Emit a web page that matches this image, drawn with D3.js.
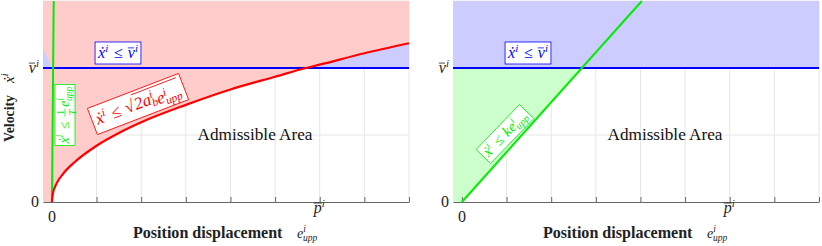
<!DOCTYPE html>
<html>
<head>
<meta charset="utf-8">
<script src="https://cdn.jsdelivr.net/npm/d3@7"></script>
<style>
  body { margin: 0; background: #fff; }
  svg { display: block; }
  text { white-space: pre; }
</style>
</head>
<body>
<div id="container"></div>
<script>
/* CONSTANTS AND GLOBALS */
const width = 822;
const height = 246;

/* DATA */
const xDomain = [-0.2, 8];
const yDomain = [0, 3];
const xTicks = [0, 1, 2, 3, 4, 5, 6, 7, 8];
const yGrid = [1, 2, 3];
const xTickLabels = [{ v: 0, html: "0" }, { v: 6, html: "p", bar: true }];
const yTickLabels = [{ v: 0, html: "0" }, { v: 2, html: "v", bar: true }];
const vMax = 2;

// red curve  x_dot = sqrt(2 a e)
const brakeX = [0, 0.02, 0.1, 0.25, 0.5, 1, 1.5, 2, 3, 4, 5, 5.69, 6, 7, 8];
const brakeV = [0, 0.12, 0.27, 0.42, 0.59, 0.84, 1.03, 1.19, 1.45, 1.68, 1.87, 2.0, 2.05, 2.22, 2.37];

// green lines
const leftGreenX = [0, 0.04];
const leftGreenV = [0, 3];
const rightGreenX = [0, 4.03];
const rightGreenV = [0, 3];
const rightCrossX = 2.69;

// small blue sliver at the top-left of the left panel
const sliverX = [-0.2, -0.2, 0];
const sliverV = [2, 2.3, 2];

const colors = {
  red: "#ff0000", blue: "#0000ff", green: "#00ee00",
  redFill: "#ffcccc", blueFill: "#ccccff", greenFill: "#ccffcc",
  grid: "#e6e6e6", axis: "#666"
};

const svg = d3.select("#container")
  .append("svg")
  .attr("width", width)
  .attr("height", height)
  .attr("font-family", "Liberation Serif");

/* helpers */
const sup = s => `<tspan dy="-6" font-size="0.68em">${s}</tspan><tspan dy="6"></tspan>`;
const supSub = (a, b) => `<tspan dy="-6" font-size="0.68em">${a}</tspan><tspan dx="-3" dy="9" font-size="0.68em">${b}</tspan><tspan dy="-3"></tspan>`;

// scale a text so its width matches the reference
function fit(t, target) {
  const w = t.node().getBBox().width;
  const fs = +t.attr("font-size");
  t.attr("font-size", fs * target / w);
  return target;
}

// lay out math segments side by side inside g, returns width
function buildMath(g, segs, size, color) {
  let x = 0;
  segs.forEach(s => {
    if (s.space) { x += s.space * size; return; }
    if (s.frac) {
      const fs = size * 0.68;
      const tn = g.append("text").attr("font-size", fs).attr("fill", color)
        .attr("text-anchor", "middle").text(s.frac[0]);
      const td = g.append("text").attr("font-size", fs).attr("fill", color)
        .attr("font-style", "italic").attr("text-anchor", "middle").text(s.frac[1]);
      const w = Math.max(tn.node().getBBox().width, td.node().getBBox().width) + 2;
      tn.attr("x", x + w / 2 + 0.5).attr("y", -size * 0.38);
      td.attr("x", x + w / 2 + 0.5).attr("y", size * 0.45);
      g.append("line").attr("x1", x + 0.5).attr("x2", x + w + 0.5)
        .attr("y1", -size * 0.3).attr("y2", -size * 0.3)
        .attr("stroke", color).attr("stroke-width", 0.7);
      x += w + 2;
    } else {
      const t = g.append("text").attr("x", x).attr("font-size", size)
        .attr("fill", color).attr("font-style", s.upright ? "normal" : "italic")
        .html(s.html);
      const w = t.node().getBBox().width;
      if (s.bar) {
        g.append("line").attr("x1", x + (s.barPad || 0)).attr("x2", x + w - (s.barCut || 0))
          .attr("y1", -size * (s.barY || 0.78)).attr("y2", -size * (s.barY || 0.78))
          .attr("stroke", color).attr("stroke-width", 0.8);
      }
      x += w + (s.gap || 0);
    }
  });
  return x;
}

function mathBox(parent, cx, cy, angle, segs, size, color, padX, boxH) {
  const g = parent.append("g").attr("transform", `translate(${cx},${cy}) rotate(${angle})`);
  const rect = g.append("rect");
  const inner = g.append("g");
  const w = buildMath(inner, segs, size, color);
  inner.attr("transform", `translate(${-w / 2},${size * 0.3})`);
  rect.attr("x", -w / 2 - padX).attr("y", -boxH / 2)
    .attr("width", w + 2 * padX).attr("height", boxH)
    .attr("fill", "#fff").attr("stroke", color).attr("stroke-width", 0.8);
}

const xdot = { html: "ẋ" + sup("i") };
const le = [{ space: 0.3 }, { html: "≤", upright: true }, { space: 0.3 }];
const vbar = { html: "v" + sup("i"), bar: true, barY: 0.62, barCut: 4 };
const eupp = { html: "e" + supSub("i", "upp") };

/* PANELS */
function panel(x0, x1, kind) {
  const xScale = d3.scaleLinear().domain(xDomain).range([x0, x1]);
  const yScale = d3.scaleLinear().domain(yDomain).range([202, 1]);
  const g = svg.append("g");

  // grid
  g.selectAll(".vgrid").data(xTicks.filter(d => d > 0)).join("line")
    .attr("x1", d => xScale(d)).attr("x2", d => xScale(d))
    .attr("y1", yScale(0)).attr("y2", yScale(3))
    .attr("stroke", colors.grid);
  g.selectAll(".hgrid").data(yGrid).join("line")
    .attr("x1", x0).attr("x2", x1)
    .attr("y1", d => yScale(d)).attr("y2", d => yScale(d))
    .attr("stroke", colors.grid);

  const line = d3.line().x(d => xScale(d[0])).y(d => yScale(d[1]));
  const brake = brakeX.map((d, i) => [d, brakeV[i]]);

  if (kind === "left") {
    // red region: above the braking curve, and everything left of zero
    const redPoly = [[xDomain[0], 0], ...brake, [8, 3], [xDomain[0], 3]];
    g.append("path").attr("d", line(redPoly) + "Z").attr("fill", colors.redFill);
    // blue region: above vMax, below the braking curve
    const above = brake.filter(d => d[1] >= vMax);
    const area = d3.area().x(d => xScale(d[0])).y0(yScale(vMax)).y1(d => yScale(d[1]))
      .curve(d3.curveMonotoneX);
    g.append("path").attr("d", area(above)).attr("fill", colors.blueFill);
    const sliver = sliverX.map((d, i) => [d, sliverV[i]]);
    g.append("path").attr("d", line(sliver) + "Z").attr("fill", colors.blueFill);
  } else {
    const bluePoly = [[xDomain[0], vMax], [8, vMax], [8, 3], [xDomain[0], 3]];
    g.append("path").attr("d", line(bluePoly) + "Z").attr("fill", colors.blueFill);
    const greenPoly = [[xDomain[0], 0], [0, 0], [rightCrossX, vMax], [xDomain[0], vMax]];
    g.append("path").attr("d", line(greenPoly) + "Z").attr("fill", colors.greenFill);
  }

  // x axis (ticks point inward)
  g.append("g")
    .attr("transform", `translate(0,${yScale(0)})`)
    .call(d3.axisBottom(xScale).tickValues(xTicks).tickSizeInner(-5).tickSizeOuter(0).tickFormat(""))
    .call(a => a.select(".domain").attr("stroke", colors.axis))
    .call(a => a.selectAll(".tick line").attr("stroke", colors.axis));

  // curves
  g.append("path").attr("d", line([[xDomain[0], vMax], [8, vMax]]))
    .attr("stroke", colors.blue).attr("stroke-width", 2).attr("fill", "none");
  if (kind === "left") {
    g.append("path").attr("d", line(leftGreenX.map((d, i) => [d, leftGreenV[i]])))
      .attr("stroke", colors.green).attr("stroke-width", 2).attr("fill", "none");
    g.append("path")
      .attr("d", d3.line().x(d => xScale(d[0])).y(d => yScale(d[1])).curve(d3.curveMonotoneX)(brake))
      .attr("stroke", colors.red).attr("stroke-width", 2.2).attr("fill", "none");
  } else {
    g.append("path").attr("d", line(rightGreenX.map((d, i) => [d, rightGreenV[i]])))
      .attr("stroke", colors.green).attr("stroke-width", 2).attr("fill", "none");
  }

  // tick labels
  xTickLabels.forEach(t => {
    const tg = g.append("g");
    const w = buildMath(tg, t.bar ? [{ html: "p" + sup("i"), bar: true, barY: 0.62, barCut: 4 }] : [{ html: "0", upright: true }], 16, "#222");
    tg.attr("transform", `translate(${xScale(t.v) - (t.bar ? 6 : w / 2)},${t.bar ? 213 : 222})`);
  });
  yTickLabels.forEach(t => {
    const tg = g.append("g");
    const w = buildMath(tg, t.bar ? [vbar] : [{ html: "0", upright: true }], 16, "#222");
    tg.attr("transform", `translate(${x0 - 4 - w},${yScale(t.v) + 5})`);
  });

  // x label
  const xl = g.append("g").attr("transform", `translate(${x0 + 90},238)`);
  const bt = xl.append("text").attr("font-size", 14).attr("font-weight", "bold").attr("fill", "#222")
    .text("Position displacement");
  const bw = fit(bt, 150);
  const el = xl.append("g").attr("transform", `translate(${bw + 14},0)`);
  buildMath(el, [eupp], 14, "#222");

  // admissible area
  const aa = g.append("text").attr("x", xScale(4.55)).attr("y", 140).attr("text-anchor", "middle")
    .attr("font-size", 16).attr("fill", "#111").text("Admissible Area");
  fit(aa, 115);

  // constraint boxes
  mathBox(g, x0 + 75, 53, 0, [xdot, ...le, vbar], 16, colors.blue, 3, 22);
  if (kind === "left") {
    mathBox(g, x0 + 95, 104, -21, [xdot, ...le, { html: "√", upright: true },
      { html: "2a" + supSub("i", "b") + "e" + supSub("i", "upp"), bar: true, barY: 0.95 }], 17, colors.red, 4, 28);
    mathBox(g, x0 + 22, 115, -90, [xdot, ...le, { frac: ["1", "T"] }, eupp], 14, colors.green, 2, 20);
  } else {
    mathBox(g, x0 + 52, 134, -46, [xdot, ...le, { html: "ke" + supSub("i", "upp") }], 15, colors.green, 3, 20);
  }
  return g;
}

panel(43, 409, "left");
panel(453, 819, "right");

// y label (left panel only)
const yl = svg.append("g").attr("transform", "translate(14,142) rotate(-90)");
const vt = yl.append("text").attr("font-size", 14).attr("font-weight", "bold").attr("fill", "#222")
  .text("Velocity");
const vw = fit(vt, 47);
const yx = yl.append("g").attr("transform", `translate(${vw + 12},0)`);
buildMath(yx, [xdot], 15, "#222");
</script>
</body>
</html>
